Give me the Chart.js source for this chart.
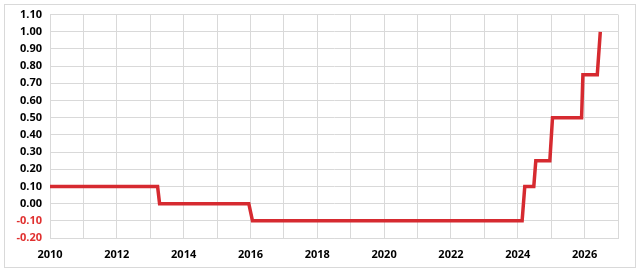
<!DOCTYPE html>
<html>
<head>
<meta charset="utf-8">
<script src="https://cdn.jsdelivr.net/npm/chart.js@4/dist/chart.umd.min.js"></script>
<style>
  html, body { margin: 0; padding: 0; background: #fff; }
  #wrap { width: 640px; height: 272px; position: relative; }
</style>
</head>
<body>
<div id="wrap"><canvas id="rateChart" width="640" height="272"></canvas></div>
<script>
// policy rate change points (decimal year) and values (%)
const dates = [2010.0, 2013.22, 2013.28, 2015.95, 2016.06, 2024.13, 2024.21, 2024.48, 2024.54, 2024.96, 2025.04, 2025.91, 2025.95, 2026.38, 2026.47];
const rates = [0.10, 0.10, 0.00, 0.00, -0.10, -0.10, 0.10, 0.10, 0.25, 0.25, 0.50, 0.50, 0.75, 0.75, 1.00];
const yearTicks = [2010, 2012, 2014, 2016, 2018, 2020, 2022, 2024, 2026];

const frame = {
    id: 'frame',
    beforeDraw(chart) {
        const c = chart.ctx;
        c.save();
        c.strokeStyle = '#d9d9d9';
        c.lineWidth = 1;
        c.strokeRect(4.5, 4.5, 631, 263);
        c.restore();
    }
};

const ctx = document.getElementById('rateChart').getContext('2d');
new Chart(ctx, {
    type: 'line',
    data: {
        datasets: [{
            data: dates.map((d, i) => ({ x: d, y: rates[i] })),
            borderColor: '#d62a30',
            borderWidth: 3.5,
            pointRadius: 0,
            tension: 0,
            fill: false
        }]
    },
    options: {
        responsive: false,
        animation: false,
        layout: { padding: { left: 0, right: 22, top: 14, bottom: 0 } },
        plugins: {
            legend: { display: false },
            tooltip: { enabled: false }
        },
        scales: {
            x: {
                type: 'linear',
                min: 2010,
                max: 2027,
                afterFit: s => { s.height = 34; },
                grid: { color: '#d9d9d9', drawTicks: false },
                border: { color: '#d9d9d9' },
                ticks: {
                    stepSize: 1,
                    autoSkip: false,
                    maxRotation: 0,
                    padding: 10,
                    color: '#000',
                    font: { family: 'Open Sans', size: 11, weight: 'bold' },
                    callback: v => yearTicks.includes(v) ? String(v) : ''
                }
            },
            y: {
                min: -0.2,
                max: 1.1,
                afterFit: s => { s.width = 50; },
                grid: { color: '#d9d9d9', drawTicks: false },
                border: { color: '#d9d9d9' },
                ticks: {
                    stepSize: 0.1,
                    padding: 8,
                    color: c => c.tick.value < -0.001 ? '#e0302f' : '#000',
                    font: { family: 'Open Sans', size: 11, weight: 'bold' },
                    callback: v => v.toFixed(2)
                }
            }
        }
    },
    plugins: [frame]
});
</script>
</body>
</html>
